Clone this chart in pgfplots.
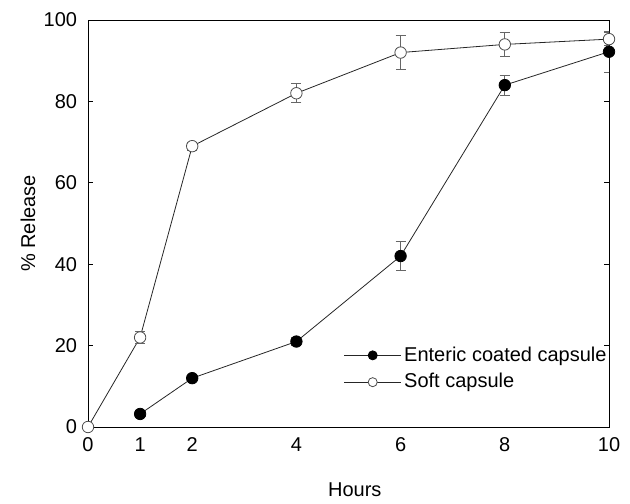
\documentclass[border=0pt]{standalone}
\usepackage{pgfplots}
\pgfplotsset{compat=1.18}
\usepackage{fontspec}
\setmainfont{Liberation Sans}
\begin{document}
\fontsize{15}{18}\selectfont
\begin{tikzpicture}
\path (-66pt,-54pt) rectangle (406.5pt,320.25pt);
\begin{axis}[
  scale only axis, width=390.75pt, height=305.25pt,
  at={(0,0)}, anchor=south west,
  xmin=0, xmax=10, ymin=0, ymax=100,
  xtick={0,1,2,4,6,8,10}, ytick={0,20,40,60,80,100},
  major x tick style={draw=none},
  tick align=inside, major tick length=4pt,
  tick style={black, line width=0.6pt},
  axis line style={line width=0.6pt},
  /pgf/number format/assume math mode=true,
  ticklabel style={font=\fontsize{15}{18}\selectfont},
  xticklabel style={yshift=-3pt},
  yticklabel style={xshift=-3pt},
  xlabel={Hours}, ylabel={\% Release},
  label style={font=\fontsize{15}{18}\selectfont},
  xlabel style={at={(axis description cs:0.512,-0.155)}, anchor=center},
  ylabel style={at={(axis description cs:-0.115,0.5)}, anchor=center},
  legend style={at={(axis description cs:0.488,0.208)}, anchor=north west,
    draw=none, fill=none, font=\fontsize{15}{18}\selectfont,
    row sep=3pt, inner sep=1pt},
  legend cell align=left,
  legend image code/.code={\draw[mark repeat=2,mark phase=2,#1,mark size=3.4pt]
    plot coordinates {(0cm,0cm)(0.75cm,0cm)(1.5cm,0cm)};},
  reverse legend,
  error bars/error bar style={black!60, line width=0.6pt},
  error bars/error mark options={rotate=90, mark size=3.8pt, black!60, line width=0.6pt},
]
% Soft capsule
\addplot[black!85, line width=0.6pt, mark=*, mark size=4.3pt,
  mark options={fill=white, draw=black!70},
  error bars/.cd, y dir=both, y explicit]
  coordinates {
  (0,0) +- (0,0)
  (1,22) +- (0,1.5)
  (2,69) +- (0,1.0)
  (4,82) +- (0,2.3)
  (6,92) +- (0,4.2)
  (8,94) +- (0,3.0)
  (10,95.3) +- (0,1.6)
};
\addlegendentry{Soft capsule}
% Enteric coated capsule
\addplot[black!85, line width=0.6pt, mark=*, mark size=4.3pt,
  mark options={fill=black, draw=black},
  error bars/.cd, y dir=both, y explicit]
  coordinates {
  (1,3.2) +- (0,0.8)
  (2,12) +- (0,0.8)
  (4,21) +- (0,1.0)
  (6,42) +- (0,3.5)
  (8,84) +- (0,2.5)
  (10,92.2) +- (0,5.0)
};
\addlegendentry{Enteric coated capsule}
\end{axis}
\end{tikzpicture}
\end{document}
